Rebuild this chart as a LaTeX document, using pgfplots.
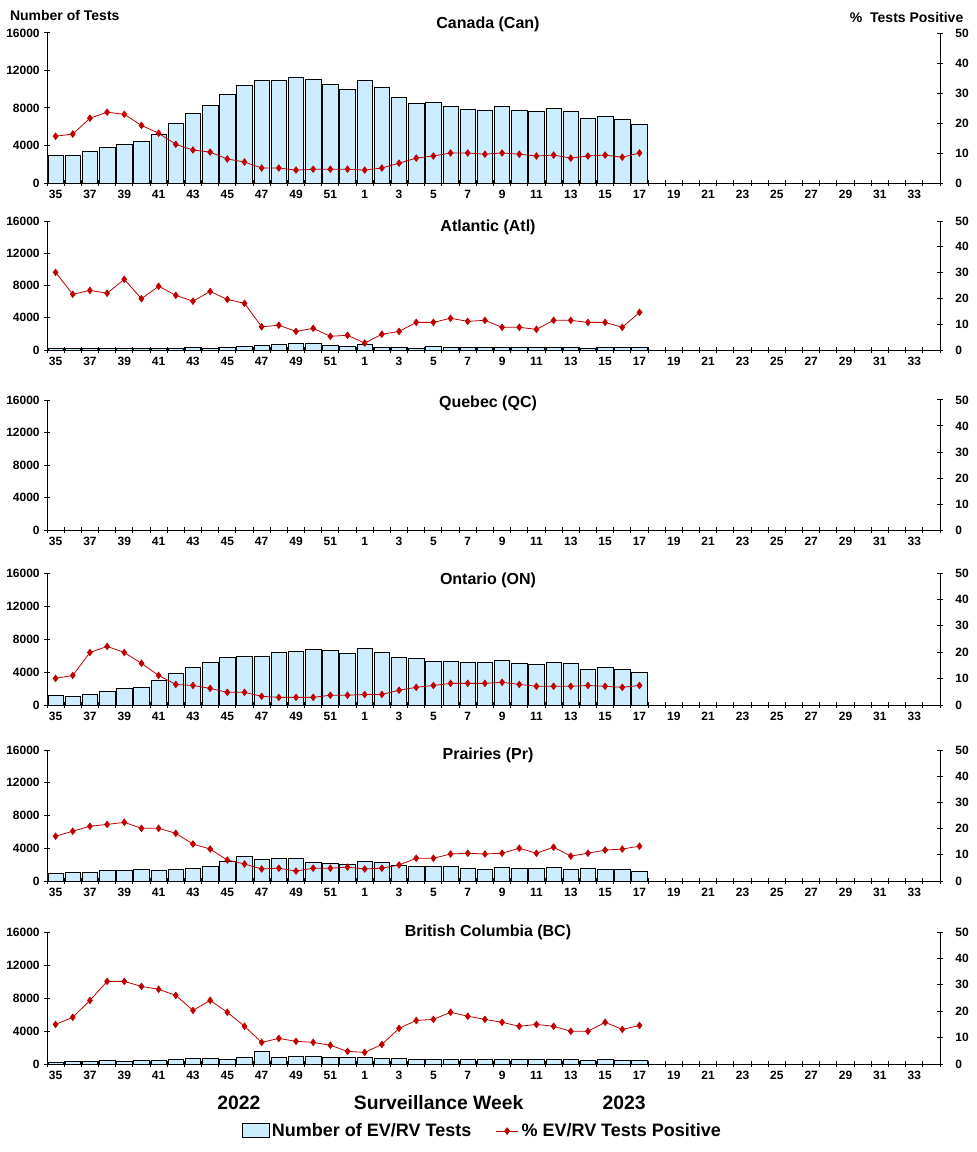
\documentclass[border=0pt]{standalone}
\usepackage{fontspec}
\setmainfont{Liberation Sans}
\usepackage{pgfplots}
\usepackage{pgfplotstable}
\pgfplotsset{compat=1.18}

\definecolor{barblue}{RGB}{204,236,255}
\definecolor{posred}{RGB}{192,0,0}

% x: 0 = week 35 ... 17 = week 52, 18 = week 1 ... 34 = week 17
\pgfplotstableread{
x n p
0 2900 15.6
1 2900 16.3
2 3400 21.6
3 3820 23.6
4 4140 22.9
5 4460 19.2
6 5200 16.6
7 6370 12.9
8 7430 11.0
9 8280 10.3
10 9450 8.0
11 10400 7.0
12 10940 5.0
13 10940 5.0
14 11260 4.3
15 11040 4.6
16 10510 4.6
17 9980 4.6
18 10940 4.3
19 10190 5.0
20 9130 6.6
21 8500 8.3
22 8600 9.0
23 8180 10.0
24 7860 10.0
25 7750 9.6
26 8180 10.0
27 7750 9.6
28 7650 9.0
29 7960 9.3
30 7650 8.3
31 6900 9.0
32 7110 9.3
33 6800 8.6
34 6270 10.0
}\canada

\pgfplotstableread{
x n p
0 150 30.1
1 150 21.6
2 250 23.1
3 250 22.0
4 150 27.4
5 220 19.9
6 150 24.7
7 220 21.2
8 380 18.9
9 220 22.7
10 380 19.6
11 500 18.1
12 620 9.0
13 750 9.6
14 870 7.2
15 870 8.4
16 620 5.3
17 500 5.7
18 750 2.7
19 330 6.1
20 330 7.2
21 220 10.7
22 460 10.7
23 330 12.3
24 330 11.1
25 330 11.5
26 330 8.8
27 330 8.8
28 330 8.0
29 330 11.5
30 330 11.5
31 250 10.7
32 330 10.7
33 330 8.8
34 330 14.6
}\atlantic

\pgfplotstableread{
x n p
0 1170 10.1
1 1050 11.2
2 1290 19.9
3 1660 22.2
4 2020 19.9
5 2140 15.8
6 2990 11.2
7 3840 7.8
8 4570 7.4
9 5170 6.3
10 5780 4.8
11 5900 4.8
12 5900 3.3
13 6380 2.9
14 6500 2.9
15 6750 2.9
16 6630 3.7
17 6260 3.7
18 6870 4.0
19 6380 4.0
20 5780 5.6
21 5660 6.7
22 5290 7.4
23 5290 8.2
24 5170 8.2
25 5170 8.2
26 5410 8.6
27 5050 7.8
28 4930 7.1
29 5170 7.1
30 5050 7.1
31 4320 7.4
32 4570 7.1
33 4320 6.7
34 3960 7.4
}\ontario

\pgfplotstableread{
x n p
0 970 17.1
1 1090 19.0
2 1090 20.9
3 1330 21.6
4 1330 22.4
5 1450 20.1
6 1330 20.1
7 1450 18.2
8 1580 14.1
9 1820 12.2
10 2420 8.0
11 3030 6.5
12 2670 4.6
13 2790 4.9
14 2790 3.8
15 2300 4.9
16 2180 4.9
17 2060 5.3
18 2420 4.6
19 2300 4.9
20 1940 6.1
21 1820 8.7
22 1820 8.7
23 1820 10.3
24 1580 10.6
25 1450 10.3
26 1700 10.6
27 1580 12.5
28 1580 10.6
29 1700 12.9
30 1450 9.5
31 1580 10.6
32 1450 11.8
33 1450 12.2
34 1210 13.3
}\prairies

\pgfplotstableread{
x n p
0 200 15.0
1 320 17.7
2 320 24.1
3 450 31.3
4 320 31.3
5 450 29.4
6 450 28.3
7 570 26.0
8 690 20.3
9 690 24.1
10 570 19.6
11 810 14.3
12 1540 8.2
13 810 9.7
14 930 8.6
15 930 8.2
16 810 7.1
17 810 4.8
18 810 4.4
19 690 7.4
20 690 13.5
21 570 16.5
22 570 16.9
23 570 19.6
24 570 18.1
25 570 16.9
26 570 15.8
27 570 14.3
28 570 15.0
29 570 14.3
30 570 12.4
31 450 12.4
32 570 15.8
33 450 13.1
34 450 14.6
}\bc

\pgfplotsset{
  common/.style={
    scale only axis, width=669.75pt, anchor=south west,
    xmin=-0.5, xmax=51.5, clip=false,
    scaled ticks=false,
    tick align=center, major tick length=4pt, minor tick length=4pt,
    ticklabel style={font=\bfseries\fontsize{9}{10}\selectfont},
    /pgf/number format/assume math mode=true,
    axis line style={line width=0.75pt, -},
    tick style={line width=0.75pt, black},
  },
  leftax/.style={common,
    axis x line*=bottom, axis y line*=left,
    ymin=0, ymax=16000,
    ytick={0,4000,8000,12000,16000},
    yticklabels={0,4000,8000,12000,16000},
    xtick={0,2,...,50},
    xticklabels={35,37,39,41,43,45,47,49,51,1,3,5,7,9,11,13,15,17,19,21,23,25,27,29,31,33},
    minor xtick={-0.5,0.5,...,51.5},
    major x tick style={draw=none},
  },
  rightax/.style={common,
    axis x line=none, axis y line*=right,
    ymin=0, ymax=50, ytick={0,10,...,50},
    yticklabels={0,10,20,30,40,50},
    yticklabel style={xshift=6pt},
  },
  bars/.style={ybar, bar shift=0pt, bar width=0.9, fill=barblue, draw=black, line width=0.5pt},
  pos/.style={posred, line width=0.6pt, mark=diamond*, mark size=2.4pt},
}

\newcommand{\panel}[3]{%
  \begin{axis}[leftax, at={(35.25pt,#2)}, height=#3]
    \addplot[bars] table[x=x,y=n]{#1};
  \end{axis}
  \begin{axis}[rightax, at={(35.25pt,#2)}, height=#3]
    \addplot[pos] table[x=x,y=p]{#1};
  \end{axis}}

\begin{document}
\begin{tikzpicture}
\useasboundingbox (0,0) rectangle (732pt,-864pt);

\panel{\canada}{-137.25pt}{112.5pt}
\panel{\atlantic}{-262.5pt}{96.75pt}

% Quebec: no data
\begin{axis}[leftax, at={(35.25pt,-397.5pt)}, height=97.5pt]
\end{axis}
\begin{axis}[rightax, at={(35.25pt,-397.5pt)}, height=97.5pt]
\end{axis}

\panel{\ontario}{-528.75pt}{99pt}
\panel{\prairies}{-660.75pt}{98.25pt}

\begin{axis}[leftax, at={(35.25pt,-798pt)}, height=99pt,
  legend style={at={(0.488,-0.508)}, anchor=center, draw=none, fill=none,
    legend columns=2, font=\bfseries\fontsize{13.5}{15}\selectfont,
    /tikz/every even column/.append style={column sep=16pt}}]
  \addplot[bars, legend image code/.code={\draw[fill=barblue,draw=black,line width=0.5pt] (0pt,-5pt) rectangle (20pt,6pt);}]
    table[x=x,y=n]{\bc};
  \addlegendentry{Number of EV/RV Tests}
  \addlegendimage{pos}
  \addlegendentry{\% EV/RV Tests Positive}
\end{axis}
\begin{axis}[rightax, at={(35.25pt,-798pt)}, height=99pt]
  \addplot[pos] table[x=x,y=p]{\bc};
\end{axis}

\begin{scope}[every node/.style={font=\bfseries\fontsize{12}{14}\selectfont}]
\node at (366pt,-18pt) {Canada (Can)};
\node at (366pt,-170.25pt) {Atlantic (Atl)};
\node at (366pt,-302.25pt) {Quebec (QC)};
\node at (366pt,-435pt) {Ontario (ON)};
\node at (366pt,-566.25pt) {Prairies (Pr)};
\node at (366pt,-699pt) {British Columbia (BC)};
\end{scope}

\node[anchor=west, font=\bfseries\fontsize{10.5}{12}\selectfont] at (4pt,-11.25pt) {Number of Tests};
\node[anchor=east, font=\bfseries\fontsize{10.5}{12}\selectfont] at (726pt,-12.75pt) {\%\ \ Tests Positive};

\begin{scope}[every node/.style={font=\bfseries\fontsize{14.5}{16}\selectfont}]
\node at (179.25pt,-827.25pt) {2022};
\node at (329pt,-827.25pt) {Surveillance Week};
\node at (468pt,-827.25pt) {2023};
\end{scope}
\end{tikzpicture}
\end{document}
